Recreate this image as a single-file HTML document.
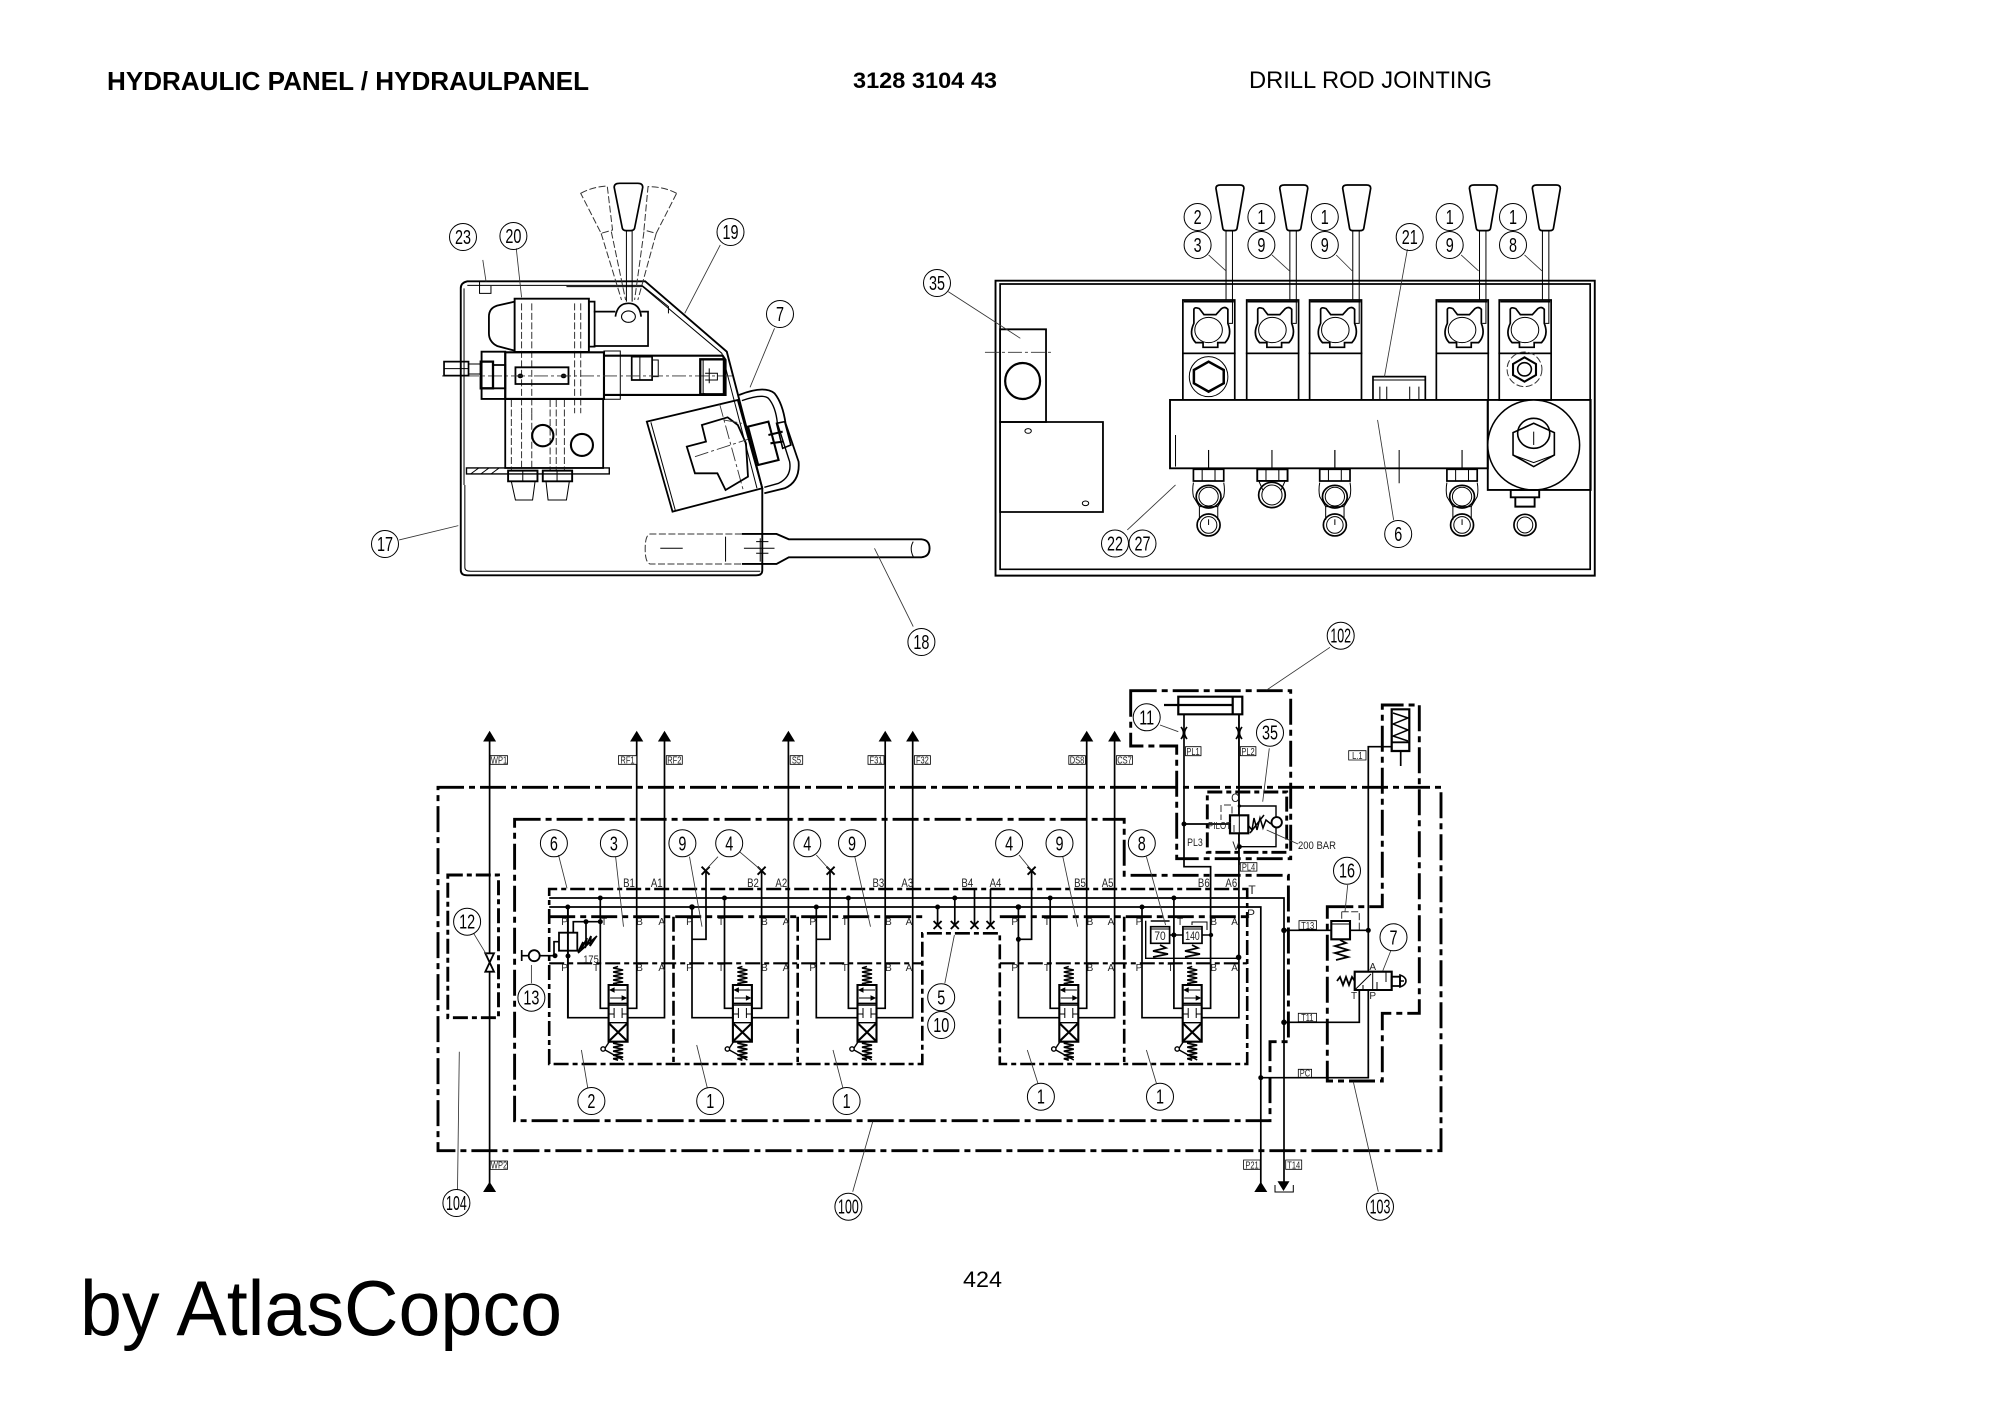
<!DOCTYPE html>
<html><head><meta charset="utf-8"><title>Hydraulic Panel</title>
<style>
html,body{margin:0;padding:0;background:#fff;width:2000px;height:1413px;overflow:hidden}
svg{display:block;position:absolute;left:0;top:0}
svg *{vector-effect:non-scaling-stroke}
text{font-family:"Liberation Sans",sans-serif;fill:#000;stroke:none}
g,path,rect,line,ellipse,circle,polyline,polygon{fill:none;stroke:#000}
.m{stroke-width:1.7}
.th{stroke-width:1}
.g{stroke-width:.85;stroke:#333}
.da{stroke-width:1;stroke-dasharray:7 2.5;stroke:#333}
.cl{stroke-width:.9;stroke-dasharray:14 3 3 3;stroke:#333}
.d{stroke-width:2.9;stroke-dasharray:26 5 6 5;fill:none}
.d2{stroke-width:2.9;stroke-dasharray:15 4 5 4;fill:none}
.l{stroke-width:1.7;fill:none}
.dot,.dot *{fill:#000;stroke:none}
.f,.f *{fill:#000;stroke:#000}
.c{text-anchor:middle;font-size:20px}
.s{text-anchor:middle;font-size:10px;fill:#222}
.tag{stroke-width:.8;stroke:#333;fill:#fff}
.tag *{fill:#fff}
</style></head><body>
<svg width="2000" height="1413" viewBox="0 0 2000 1413" xmlns="http://www.w3.org/2000/svg">
<rect x="0" y="0" width="2000" height="1413" style="fill:#fff;stroke:none"/>
<defs>
<g id="col" class="m">
 <rect x="0" y="420" width="113" height="160"/>
 <line x1="2" y1="425" x2="111" y2="425" class="m"/>
 <rect x="0" y="580" width="113" height="140"/>
 <path d="M24 490V448Q26 440 36 446L46 464H72L84 446Q92 438 98 448V490Q108 525 92 548H76V562H44V548H28Q12 525 24 490Z" class="m"/>
 <ellipse cx="56" cy="510" rx="30" ry="38" class="th"/>
 <path d="M72 85Q72 75 82 75H124Q133 75 133 85L118 205Q117 212 110 212H94Q88 212 87 205Z" class="m"/>
 <path d="M94 212V420M108 212V490H100" class="th"/>
</g>
<g id="fit" class="m">
 <rect x="-33" y="928" width="66" height="35"/>
 <path d="M-14 928V963M14 928V963" class="th"/>
 <path d="M-33 968Q-36 990 -33 1010L-20 1040H20L33 1010Q36 990 33 968" class="th"/>
 <ellipse cx="0" cy="1010" rx="27" ry="34"/>
 <ellipse cx="0" cy="1010" rx="21" ry="28" class="th"/>
 <path d="M-20 1040V1080M20 1040V1080" class="th"/>
 <ellipse cx="0" cy="1095" rx="25" ry="33"/>
 <ellipse cx="0" cy="1095" rx="18" ry="25" class="th"/>
 <line x1="0" y1="1078" x2="0" y2="1095" class="th"/>
 <line x1="0" y1="870" x2="0" y2="925" class="th"/>
</g>
<polyline id="spr" points="0,0 -5,1.5 5,3.5 -5,5.5 5,7.5 -5,9.5 5,11.5 -5,13.5 5,15.5 -5,17 0,18.5" style="stroke-width:1.6"/>
<g id="sp">
 <rect x="-9.5" y="985" width="19" height="56.7" style="stroke-width:2.1"/>
 <path d="M-9.5 1003.3H9.5M-9.5 1005H9.5M-9.5 1022.7H9.5" style="stroke-width:1.4"/>
 <path d="M-9.5 1023L9.5 1041.5M9.5 1023L-9.5 1041.5" style="stroke-width:2.1"/>
 <path d="M-8 990H8M8 998H-8M-9.5 1014H-4M9.5 1014H4M-4 1008V1018M4 1008V1018" class="th"/>
 <polygon class="f" points="-8,990 -4,988 -4,992"/><polygon class="f" points="8,998 4,996 4,1000"/>
 <use href="#spr" x="0" y="966.5"/>
 <use href="#spr" x="0" y="1041.7"/>
 <circle cx="-15" cy="1049" r="2.2" style="stroke-width:1.4"/>
 <path d="M-13 1050L5 1060M-13 1048L-9 1042" style="stroke-width:1.4"/>
</g>
<g id="xm"><path d="M-4 -4L4 4M4 -4L-4 4" style="stroke-width:1.9"/></g>
</defs>

<!-- Header -->
<text x="107" y="90" textLength="482" lengthAdjust="spacingAndGlyphs" style="font-weight:bold;font-size:26px">HYDRAULIC PANEL / HYDRAULPANEL</text>
<text x="853" y="88" textLength="144" lengthAdjust="spacingAndGlyphs" style="font-weight:bold;font-size:22px">3128 3104 43</text>
<text x="1249" y="88" textLength="243" lengthAdjust="spacingAndGlyphs" style="font-size:24px">DRILL ROD JOINTING</text>
<text x="963" y="1287" textLength="39" lengthAdjust="spacingAndGlyphs" style="font-size:22px">424</text>
<text x="80" y="1335" textLength="482" lengthAdjust="spacingAndGlyphs" style="font-size:78px">by AtlasCopco</text>

<!-- Side view -->
<g transform="translate(340 160) scale(.408 .3333)" class="m">
 <path d="M312 364H748L948 575L1035 985V1232Q1035 1246 1020 1246H312Q296 1246 296 1230V385Q296 368 312 364Z" style="stroke-width:1.9"/>
 <path d="M312 376H738L936 580L1022 985" class="th"/>
 <path d="M306 975V1222Q306 1234 320 1234H1030M304 385V975" class="th"/>
 <path d="M555 380H740M740 376L805 440V460" class="th"/>
 <path d="M342 365V400H370V378" class="th"/>
 <!-- handles -->
 <path d="M672 82Q672 70 685 70H730Q742 70 742 82L722 205Q720 212 712 212H702Q694 212 692 205Z" class="m"/>
 <path d="M702 212V425M716 212V425" class="th"/>
 <path d="M590 100Q620 80 655 78L668 210L640 220Z" class="da"/>
 <path d="M825 100Q795 80 755 80L745 210L775 220Z" class="da"/>
 <path d="M640 220L690 420M665 215L700 420M745 215L722 420M775 220L730 420" class="da"/>
 <circle cx="707" cy="470" r="17" style="stroke-width:1.1"/>
 <path d="M675 470Q680 430 707 430Q735 430 738 470" class="m"/>
 <path d="M622 455H675M738 455H755V558H622" class="m"/>
 <!-- valve -->
 <rect x="428" y="416" width="182" height="160" style="stroke-width:1.9"/>
 <rect x="610" y="425" width="14" height="135"/>
 <path d="M428 425L385 437Q365 445 365 470V520Q365 545 385 558L428 572" style="stroke-width:1.8"/>
 <path d="M445 430V760M470 430V760M575 430V760M590 430V760" class="da"/>
 <rect x="405" y="577" width="242" height="140" style="stroke-width:2.1"/>
 <rect x="347" y="575" width="58" height="142" style="stroke-width:1.9"/>
 <rect x="647" y="573" width="40" height="145" class="th"/>
 <path d="M647 587H938L945 600V705H647" style="stroke-width:2.1"/>
 <rect x="715" y="590" width="50" height="70"/><line x1="735" y1="590" x2="735" y2="660" class="th"/><rect x="765" y="600" width="15" height="50" class="th"/>
 <rect x="430" y="622" width="130" height="50" style="stroke-width:1.8"/>
 <circle class="dot" cx="442" cy="648" r="7"/><circle class="dot" cx="548" cy="648" r="7"/>
 <line x1="250" y1="648" x2="965" y2="648" class="cl"/>
 <rect x="255" y="605" width="60" height="42"/><line x1="255" y1="626" x2="315" y2="626" class="th"/>
 <path d="M315 612H345M315 642H345" class="th"/>
 <rect x="345" y="605" width="30" height="80" style="stroke-width:2.3"/>
 <rect x="375" y="615" width="30" height="70" style="stroke-width:1.8"/>
 <rect x="883" y="598" width="58" height="105" style="stroke-width:2.3"/>
 <path d="M890 600V700L905 705M905 625V670M895 640H925V660H895" class="th"/>
 <!-- lower block -->
 <rect x="405" y="717" width="240" height="207" style="stroke-width:1.8"/>
 <path d="M420 720V930M445 760V930M470 760V930M515 720V930M530 720V930M550 720V930" class="da"/>
 <ellipse cx="497" cy="827" rx="26" ry="32" style="stroke-width:2.1"/>
 <ellipse cx="593" cy="855" rx="27" ry="33" style="stroke-width:2.1"/>
 <rect x="310" y="924" width="350" height="18" style="stroke-width:1.4"/>
 <path d="M320 942L340 924M345 942L365 924M370 942L390 924" class="th"/>
 <rect x="412" y="932" width="72" height="32" style="stroke-width:1.9"/><rect x="497" y="932" width="72" height="32" style="stroke-width:1.9"/>
 <path d="M420 965L430 1020H472L478 965M505 965L510 1020H555L562 965M448 932V964M532 932V964" class="th"/>
 <!-- bracket -->
 <polygon points="752,785 975,720 1035,985 815,1055" style="stroke-width:1.8"/>
 <path d="M762 787L822 1052" class="th"/>
 <path d="M930 730L990 998" class="cl"/>
 <path d="M887 795L950 772L975 795L995 850L1000 950L945 990L925 940L870 940L850 860L897 845Z" style="stroke-width:1.8"/>
 <path d="M870 890L1000 838M940 780L985 790" class="cl"/>
 <path d="M978 705Q1040 675 1065 700Q1085 730 1092 790L1124 905Q1128 965 1090 985L1040 1000" style="stroke-width:1.8"/>
 <path d="M985 722Q1035 700 1050 715Q1068 740 1072 790L1102 905Q1108 950 1075 970L1040 982" style="stroke-width:1.4"/>
 <path d="M1000 800L1050 785L1075 900L1025 915Z" style="stroke-width:2.1"/>
 <path d="M1050 825L1085 815M1055 850L1085 845" style="stroke-width:2.1"/>
 <polygon points="1070,790 1090,785 1105,855 1085,865" style="stroke-width:1.6"/>
 <!-- lever -->
 <path d="M985 1122H760Q748 1125 748 1167Q748 1208 760 1212H985" class="da"/>
 <path d="M985 1122H1070L1100 1138H1425Q1445 1140 1445 1165Q1445 1190 1425 1192H1100L1070 1212H985" style="stroke-width:1.9"/>
 <path d="M945 1130V1205M785 1165H840M1405 1145Q1395 1165 1405 1190M990 1165H1065M1020 1145H1050M1020 1180H1050M1030 1135V1205" class="th"/>
 <path d="M1035 985V1000" class="th"/>
 <!-- leaders -->
 <path d="M350 300L358 365M432 265L445 412M932 255L845 460M1065 505L1005 682M145 1140L290 1097M1405 1400L1310 1165" class="g"/>
</g>

<!-- Front view -->
<g transform="translate(900 160) scale(.4592 .3333)" class="m">
 <rect x="208" y="362" width="1305" height="885" style="stroke-width:1.9"/>
 <path d="M218 372H1503V1228H218Z" class="m"/>
 <rect x="218" y="508" width="100" height="278" style="stroke-width:1.8"/>
 <ellipse cx="267" cy="663" rx="38" ry="54" style="stroke-width:2.2"/>
 <line x1="185" y1="577" x2="335" y2="577" class="cl"/>
 <rect x="218" y="786" width="224" height="270" style="stroke-width:1.8"/>
 <ellipse cx="279" cy="813" rx="7" ry="7" class="th"/><ellipse cx="404" cy="1030" rx="7" ry="7" class="th"/>
 <use href="#col" x="616"/><use href="#col" x="755"/><use href="#col" x="892"/><use href="#col" x="1168"/><use href="#col" x="1305"/>
 <ellipse cx="672" cy="650" rx="42" ry="60" class="th"/>
 <polygon points="640,630 672,605 705,630 705,670 672,695 640,670" style="stroke-width:2.5"/>
 <ellipse cx="1360" cy="628" rx="38" ry="52" class="da"/>
 <polygon points="1335,612 1360,592 1385,612 1385,645 1360,665 1335,645" style="stroke-width:2.1"/>
 <ellipse cx="1360" cy="628" rx="15" ry="20" style="stroke-width:1.6"/>
 <rect x="1030" y="650" width="114" height="70"/>
 <path d="M1030 660H1144M1045 680V720M1060 680V720M1110 680V720M1130 680V720" class="th"/>
 <rect x="588" y="720" width="692" height="205" style="stroke-width:1.9;fill:#fff"/>
 <path d="M600 825V920M1087 870V970M672 870V925M810 870V925M947 870V925M1224 870V925" class="th"/>
 <rect x="1280" y="720" width="224" height="270" style="stroke-width:1.9"/>
 <ellipse cx="1380" cy="855" rx="100" ry="135" style="stroke-width:1.5;fill:#fff"/>
 <polygon points="1335,818 1380,790 1425,818 1425,885 1380,920 1335,885" style="stroke-width:1.6"/>
 <path d="M1335 885L1380 908L1425 885" class="th"/>
 <ellipse cx="1380" cy="820" rx="35" ry="45" style="stroke-width:1.6"/>
 <line x1="1380" y1="815" x2="1380" y2="855" class="th"/>
 <path d="M1330 990H1392V1012H1330ZM1340 1012V1040H1382V1012" style="stroke-width:1.9"/>
 <ellipse cx="1361" cy="1095" rx="24" ry="32"/><ellipse cx="1361" cy="1095" rx="17" ry="24" class="th"/>
 <use href="#fit" x="672"/><use href="#fit" x="947"/><use href="#fit" x="1224"/>
 <rect x="778" y="928" width="66" height="35" style="stroke-width:1.9"/>
 <path d="M797 928V963M825 928V963" class="th"/>
 <path d="M782 965L790 990M838 965L830 990" class="th"/>
 <ellipse cx="810" cy="1005" rx="29" ry="38"/><ellipse cx="810" cy="1005" rx="22" ry="30" class="th"/>
 <line x1="810" y1="870" x2="810" y2="925" class="th"/>
 <path d="M672 285L710 333M810 285L850 335M950 285L985 333M1105 268L1055 650M1222 285L1260 333M1360 285L1398 333M105 395L262 535M495 1110L600 975M1075 1080L1040 780" class="g"/>
</g>

<!-- Callouts upper -->
<g class="th">
<circle cx="463" cy="237" r="13.5"/><circle cx="513.4" cy="236" r="13.5"/><circle cx="730.5" cy="232" r="13.5"/><circle cx="780" cy="314" r="13.5"/><circle cx="385" cy="544" r="13.5"/><circle cx="921.4" cy="642" r="13.5"/>
<circle cx="937" cy="283" r="13.5"/><circle cx="1197.6" cy="217" r="13.5"/><circle cx="1197.6" cy="245" r="13.5"/><circle cx="1261.4" cy="217" r="13.5"/><circle cx="1261.4" cy="245" r="13.5"/><circle cx="1324.8" cy="217" r="13.5"/><circle cx="1324.8" cy="245" r="13.5"/><circle cx="1409.7" cy="237" r="13.5"/><circle cx="1449.7" cy="217" r="13.5"/><circle cx="1449.7" cy="245" r="13.5"/><circle cx="1513" cy="217" r="13.5"/><circle cx="1513" cy="245" r="13.5"/>
<circle cx="1115" cy="543.5" r="13.5"/><circle cx="1142.5" cy="543.5" r="13.5"/><circle cx="1398.2" cy="534" r="13.5"/>
</g>
<text class="c" transform="matrix(.72 0 0 1 463 244)">23</text>
<text class="c" transform="matrix(.72 0 0 1 513.4 243)">20</text>
<text class="c" transform="matrix(.72 0 0 1 730.5 239)">19</text>
<text class="c" transform="matrix(.72 0 0 1 780 321)">7</text>
<text class="c" transform="matrix(.72 0 0 1 385 551)">17</text>
<text class="c" transform="matrix(.72 0 0 1 921.4 649)">18</text>
<text class="c" transform="matrix(.72 0 0 1 937 290)">35</text>
<text class="c" transform="matrix(.72 0 0 1 1197.6 224)">2</text>
<text class="c" transform="matrix(.72 0 0 1 1197.6 252)">3</text>
<text class="c" transform="matrix(.72 0 0 1 1261.4 224)">1</text>
<text class="c" transform="matrix(.72 0 0 1 1261.4 252)">9</text>
<text class="c" transform="matrix(.72 0 0 1 1324.8 224)">1</text>
<text class="c" transform="matrix(.72 0 0 1 1324.8 252)">9</text>
<text class="c" transform="matrix(.72 0 0 1 1409.7 244)">21</text>
<text class="c" transform="matrix(.72 0 0 1 1449.7 224)">1</text>
<text class="c" transform="matrix(.72 0 0 1 1449.7 252)">9</text>
<text class="c" transform="matrix(.72 0 0 1 1513 224)">1</text>
<text class="c" transform="matrix(.72 0 0 1 1513 252)">8</text>
<text class="c" transform="matrix(.72 0 0 1 1115 550.5)">22</text>
<text class="c" transform="matrix(.72 0 0 1 1142.5 550.5)">27</text>
<text class="c" transform="matrix(.72 0 0 1 1398.2 541)">6</text>

<!-- Schematic: dash-dot enclosures -->
<rect x="438" y="787.3" width="1003" height="363.4" class="d"/>
<path d="M514.6 819.3H1124.2V875.3H1288.4V1041.7H1270V1120.7H514.6Z" class="d"/>
<path d="M1130.7 690.7H1290.7V858.7H1176.7V746H1130.7Z" class="d"/>
<rect x="1207.3" y="792" width="79.4" height="60.3" class="d2"/>
<path d="M1327.3 906.7H1382.3V705H1419.3V1013.3H1382.3V1081H1327.3Z" class="d"/>
<rect x="447.8" y="875" width="50.7" height="142.7" class="d2"/>
<path d="M549.2 1064V889H1247.2V1064H999.8V933.3H922.3V1064Z" class="d2" style="stroke-width:2.6"/>
<path d="M549.2 916.7H922.3M999.8 916.7H1247.2" class="d" style="stroke-width:2.8"/>
<path d="M549.2 963.3H922.3M999.8 963.3H1247.2" class="d2" style="stroke-width:2.1"/>
<path d="M673.5 916.7V1062M797.7 916.7V1062M1124.2 916.7V1062" class="d2" style="stroke-width:2.6"/>

<!-- main lines -->
<g class="l">
 <path d="M549.2 898H1284V1182"/>
 <path d="M549.2 907H1260.8V1184"/>
 <path d="M489.6 738V1184"/>
 <!-- section 1 -->
 <path d="M567.8 907V1017.7H609M628 1017.7H664.5V738"/>
 <path d="M600.3 898V1008.3H609M628 1008.3H636.7V738"/>
 <!-- section 2 -->
 <path d="M692 907V1017.7H733M752 1017.7H788.4V738"/>
 <path d="M724.5 898V1008.3H733M752 1008.3H761.6V870.7"/>
 <path d="M692 939.3H706V870.7"/>
 <!-- section 3 -->
 <path d="M816.3 907V1017.7H857.5M876.5 1017.7H912.7V738"/>
 <path d="M848.4 898V1008.3H857.5M876.5 1008.3H885.2V738"/>
 <path d="M816.3 939.3H830V870.7"/>
 <!-- section 4 -->
 <path d="M1018.4 907V1017.7H1059M1078 1017.7H1114.6V738"/>
 <path d="M1050.2 898V1008.3H1059M1078 1008.3H1086.7V738"/>
 <path d="M1018.4 939.3H1031.6V870.7"/>
 <!-- section 5 -->
 <path d="M1142 907V1017.7H1183M1202 1017.7H1238.9V714.3"/>
 <path d="M1173.9 898V1008.3H1183M1202 1008.3H1210.6V866.7H1184V714.3"/>
 <!-- restrictions stems -->
 <path d="M937.6 907V925M954.8 898V925M974.5 889V925M990.5 889V925"/>
 <!-- check valve 13 -->
 <path d="M521.7 950V961M521.7 955.7H529M539.5 955.7H555"/>
 <!-- relief 175 -->
 <path d="M554 955.7V941.7H559M573.3 932.7V921.7H600M586 921.7V935"/>
 <!-- L1 -->
 <path d="M1391.7 746.7H1368.3V1077.7H1260.8"/>
 <path d="M1285 930.3H1331.3M1350 930.3H1368.3"/>
 <path d="M1359.3 990V1022.3H1284"/>
 <!-- pilot -->
 <path d="M1184 824H1230"/>
 <path d="M1239.3 806H1276V846.7H1239.3" style="stroke-width:1.4"/>
 <!-- 8 reliefs -->
 <path d="M1145.7 920.7V958.3H1238.6M1169.6 935H1182.9M1202 935H1211M1150.7 921H1169.6" style="stroke-width:1.4"/>
</g>
<!-- arrows -->
<g class="f">
 <polygon points="489.6,731.7 484,741 495.2,741"/><polygon points="636.7,731.7 631,741 642.4,741"/><polygon points="664.5,731.7 658.8,741 670.2,741"/><polygon points="788.4,731.7 782.7,741 794.1,741"/><polygon points="885.2,731.7 879.5,741 890.9,741"/><polygon points="912.7,731.7 907,741 918.4,741"/><polygon points="1086.7,731.7 1081,741 1092.4,741"/><polygon points="1114.6,731.7 1109,741 1120.2,741"/>
 <polygon points="489.6,1182.7 484,1191.5 495.2,1191.5"/><polygon points="1260.8,1182.7 1255.2,1191.5 1266.4,1191.5"/>
 <polygon points="1278.4,1181.7 1288.6,1181.7 1283.5,1190"/>
</g>
<path d="M1275 1185V1192H1293.3V1185" class="th"/>
<!-- spools -->
<use href="#sp" x="618.1"/><use href="#sp" x="742.4"/><use href="#sp" x="867"/><use href="#sp" x="1068.8"/><use href="#sp" x="1192.2"/>
<!-- X marks -->
<use href="#xm" x="705.6" y="870.7"/><use href="#xm" x="761.6" y="870.7"/><use href="#xm" x="830.6" y="870.7"/><use href="#xm" x="1031.6" y="870.7"/>
<use href="#xm" x="937.6" y="925"/><use href="#xm" x="954.8" y="925"/><use href="#xm" x="974.5" y="925"/><use href="#xm" x="990.5" y="925"/>
<!-- dots -->
<g class="dot">
<circle cx="600.3" cy="898" r="2.5"/><circle cx="724.5" cy="898" r="2.5"/><circle cx="848.4" cy="898" r="2.5"/><circle cx="954.8" cy="898" r="2.5"/><circle cx="1050.2" cy="898" r="2.5"/><circle cx="1173.9" cy="898" r="2.5"/>
<circle cx="567.8" cy="907" r="2.5"/><circle cx="692" cy="907" r="2.8"/><circle cx="816.3" cy="907" r="2.5"/><circle cx="937.6" cy="907" r="2.5"/><circle cx="1018.4" cy="907" r="2.8"/><circle cx="1142" cy="907" r="2.5"/>
<circle cx="600.3" cy="921.7" r="2.5"/><circle cx="586" cy="921.7" r="2.5"/><circle cx="555" cy="955.7" r="2.5"/><circle cx="568" cy="956" r="2.5"/>
<circle cx="1018.4" cy="939.3" r="2.5"/>
<circle cx="1284" cy="930.3" r="2.8"/><circle cx="1368.3" cy="930.3" r="2.5"/><circle cx="1284" cy="1022.3" r="2.8"/><circle cx="1260.8" cy="1077.7" r="2.5"/>
<circle cx="1184" cy="824" r="2.5"/><circle cx="1239.3" cy="846.7" r="2.5"/><circle cx="1239.3" cy="806" r="1.6"/>
<circle cx="1173.9" cy="935" r="2.5"/><circle cx="1211" cy="935" r="2.2"/><circle cx="1238.6" cy="957.3" r="2.8"/>
</g>
<!-- check valve, valve 12, relief 175 -->
<circle cx="534.2" cy="955.7" r="5.5" style="stroke-width:1.8;fill:#fff"/>
<path d="M485.3 953.3H494L485.3 971.7H494Z" style="stroke-width:1.8;fill:#fff"/>
<rect x="559" y="932.7" width="18.3" height="18" style="stroke-width:1.8"/>
<path d="M568 907V1017" class="l"/>
<path d="M578 952L583 942L581 950L587 938L585 948L591 936L590 946L596 937M586 935V945M578 953L597 936" style="stroke-width:1.7"/>
<text class="s" transform="matrix(.85 0 0 1 591 963)" style="font-size:11px">175</text>

<!-- cylinder -->
<rect x="1178.3" y="696.7" width="64" height="17.6" style="stroke-width:2.2"/>
<path d="M1164 705H1232.7M1232.7 696.7V714.3" style="stroke-width:2.2"/>
<path d="M1181 727Q1186 733 1181 739M1187 727Q1182 733 1187 739M1236 727Q1241 733 1236 739M1242 727Q1237 733 1242 739" style="stroke-width:1.7"/>
<!-- valve 35 -->
<rect x="1230" y="815.3" width="18.3" height="18" style="stroke-width:2.2;fill:#fff"/>
<path d="M1239.3 714V865" class="th"/>
<path d="M1234 825V832M1224 805H1232V815M1221 805V820" class="da"/>
<circle cx="1276.7" cy="822.3" r="5.2" style="stroke-width:1.9;fill:#fff"/>
<path d="M1248 825L1252 830L1254 818L1257 830L1260 818L1263 828L1266 820L1271 824M1250 833L1264 815" style="stroke-width:1.5"/>
<text class="s" transform="matrix(.9 0 0 1 1235 802)" style="font-size:12px">C</text>
<text class="s" transform="matrix(.9 0 0 1 1236 850)" style="font-size:12px">V</text>
<text class="s" transform="matrix(.8 0 0 1 1219.5 829)">PILOT</text>
<text class="s" transform="matrix(.8 0 0 1 1195 846)" style="font-size:11px">PL3</text>
<text x="1298" y="849" textLength="38" lengthAdjust="spacingAndGlyphs" style="font-size:11px;fill:#222">200 BAR</text>
<!-- accumulator -->
<rect x="1391.7" y="709.3" width="17.6" height="41.7" style="stroke-width:2.2"/>
<path d="M1391.7 742.3H1409.3" style="stroke-width:1.9"/>
<polyline points="1393,713 1408,718 1393,724 1408,730 1393,736 1408,741" style="stroke-width:1.5"/>
<path d="M1400.7 751V766" class="l"/>
<!-- valve 16 -->
<rect x="1331.3" y="921" width="18.7" height="18.3" style="stroke-width:2.1;fill:#fff"/>
<path d="M1331.3 924H1350" class="th"/>
<path d="M1341.7 911.7H1359.3V930M1341.7 911.7V921" class="da"/>
<polyline points="1340,940 1346,943 1335,946 1348,950 1335,953 1348,957 1336,960" style="stroke-width:1.8"/>
<!-- valve 7 -->
<rect x="1354.7" y="971.7" width="37" height="18.3" style="stroke-width:2.1;fill:#fff"/>
<path d="M1372.7 971.7V990M1354.7 990L1371 974M1363 990V985M1377 990V982M1386 972V982" class="th"/>
<rect x="1391.7" y="976.7" width="8.3" height="9.3" style="stroke-width:1.8"/>
<path d="M1400 975V987Q1406 985 1406 981Q1406 977 1400 975ZM1400 981H1404" style="stroke-width:1.6"/>
<polyline points="1337,981 1340,977 1343,985 1346,977 1349,985 1352,977 1354.7,981" style="stroke-width:1.8"/>
<!-- relief 70 / 140 -->
<rect x="1150.7" y="926.7" width="18.9" height="16.6" style="stroke-width:1.7;fill:#fff"/>
<rect x="1182.9" y="926.7" width="19.1" height="16.6" style="stroke-width:1.7;fill:#fff"/>
<path d="M1150.7 929H1169.6M1182.9 929H1202M1192 925V922H1207V930" class="th"/>
<polyline points="1160,945 1166,948 1153,951 1168,954 1153,957" style="stroke-width:1.7"/>
<polyline points="1192,945 1198,948 1185,951 1200,954 1185,957" style="stroke-width:1.7"/>
<text class="s" transform="matrix(.85 0 0 1 1160 940)" style="font-size:12px">70</text>
<text class="s" transform="matrix(.72 0 0 1 1192.5 940)" style="font-size:12px">140</text>

<!-- leaders schematic -->
<path class="g" d="M558.5 855L567 888.3M615.6 856.7L623.5 926.7M689.5 856.7L702 926.7M718 856.7L705.6 870M739.5 851.7L761 870M816.3 855L829.8 870M854.8 856.7L870.5 926.7M473.6 933.3L487.8 956.7M531.4 965V983.3M954.4 935L944.8 983.3M581.4 1050L587.8 1088.3M696.7 1045L707.4 1088.3M833 1050L843 1088.3M459.3 1051.7L457.5 1190M872.7 1121.7L852.7 1191.7M1019 855L1031.3 870M1062.8 856.7L1077.7 926.7M1146.4 856.7L1165.6 925M1027.3 1050L1037.9 1083.3M1146.4 1050L1156.4 1083.3M1160 725L1178.3 731.7M1330 647.3L1266.7 690M1269.3 748.3L1262.7 801.7M1266.7 830L1298 844M1347.7 885L1345 911.7M1390.7 951L1382.7 971M1353.3 1081.7L1378.3 1191.7"/>

<!-- tags -->
<g class="tag">
<rect x="490.3" y="755.7" width="17.2" height="8.6"/><rect x="618.5" y="755.7" width="18.2" height="8.6"/><rect x="666.3" y="755.7" width="16" height="8.6"/><rect x="790.2" y="755.7" width="12.5" height="8.6"/><rect x="868" y="755.7" width="16" height="8.6"/><rect x="914.4" y="755.7" width="16" height="8.6"/><rect x="490.3" y="1161" width="17.2" height="8.4"/>
<rect x="1068.8" y="755.7" width="16.6" height="8.6"/><rect x="1116.5" y="755.7" width="16" height="8.6"/><rect x="1185.5" y="746.7" width="15.5" height="9"/><rect x="1240.3" y="746.7" width="15.6" height="9"/><rect x="1240.3" y="862.7" width="16.6" height="8.4"/><rect x="1348.7" y="750.7" width="17.3" height="9.3"/><rect x="1299" y="920.7" width="17.5" height="8.6"/><rect x="1298.3" y="1013.3" width="18.2" height="8.4"/><rect x="1298.3" y="1069.3" width="13.3" height="8"/><rect x="1243.6" y="1160" width="16.6" height="9.3"/><rect x="1285.7" y="1160" width="16" height="9.3"/>
</g>
<g>
<text class="s" transform="matrix(.75 0 0 1 499 763.5)">WP1</text>
<text class="s" transform="matrix(.75 0 0 1 627.5 763.5)">RF1</text>
<text class="s" transform="matrix(.75 0 0 1 674.3 763.5)">RF2</text>
<text class="s" transform="matrix(.75 0 0 1 796.5 763.5)">S5</text>
<text class="s" transform="matrix(.75 0 0 1 876 763.5)">F31</text>
<text class="s" transform="matrix(.75 0 0 1 922.4 763.5)">F32</text>
<text class="s" transform="matrix(.75 0 0 1 499 1168.5)">WP2</text>
<text class="s" transform="matrix(.75 0 0 1 1077 763.5)">DS8</text>
<text class="s" transform="matrix(.75 0 0 1 1124.5 763.5)">CS7</text>
<text class="s" transform="matrix(.75 0 0 1 1193 755)">PL1</text>
<text class="s" transform="matrix(.75 0 0 1 1248 755)">PL2</text>
<text class="s" transform="matrix(.75 0 0 1 1248.5 870.5)">PL4</text>
<text class="s" transform="matrix(.75 0 0 1 1357.3 759)">L.1</text>
<text class="s" transform="matrix(.75 0 0 1 1307.7 929)">T13</text>
<text class="s" transform="matrix(.75 0 0 1 1307.4 1021)">T11</text>
<text class="s" transform="matrix(.75 0 0 1 1305 1076.5)">PC</text>
<text class="s" transform="matrix(.75 0 0 1 1252 1168.5)">P21</text>
<text class="s" transform="matrix(.75 0 0 1 1293.7 1168.5)">T14</text>
</g>
<!-- port labels -->
<g>
<text class="s" transform="matrix(.8 0 0 1 629 887)" style="font-size:12px">B1</text><text class="s" transform="matrix(.8 0 0 1 656.7 887)" style="font-size:12px">A1</text><text class="s" transform="matrix(.8 0 0 1 753 887)" style="font-size:12px">B2</text><text class="s" transform="matrix(.8 0 0 1 781.3 887)" style="font-size:12px">A2</text><text class="s" transform="matrix(.8 0 0 1 878.4 887)" style="font-size:12px">B3</text><text class="s" transform="matrix(.8 0 0 1 907.3 887)" style="font-size:12px">A3</text><text class="s" transform="matrix(.8 0 0 1 967.3 887)" style="font-size:12px">B4</text><text class="s" transform="matrix(.8 0 0 1 995.5 887)" style="font-size:12px">A4</text><text class="s" transform="matrix(.8 0 0 1 1080 887)" style="font-size:12px">B5</text><text class="s" transform="matrix(.8 0 0 1 1107.6 887)" style="font-size:12px">A5</text><text class="s" transform="matrix(.8 0 0 1 1203.8 887)" style="font-size:12px">B6</text><text class="s" transform="matrix(.8 0 0 1 1231.3 887)" style="font-size:12px">A6</text>
<text class="s" transform="translate(1252 894)" style="font-size:12px">T</text><text class="s" transform="translate(1251 918)" style="font-size:12px">P</text>
<text class="s" transform="translate(564.6 925)">P</text><text class="s" transform="translate(604 925)">T</text><text class="s" transform="translate(639.6 925)">B</text><text class="s" transform="translate(661.7 925)">A</text>
<text class="s" transform="translate(564.6 971)">P</text><text class="s" transform="translate(596 971)">T</text><text class="s" transform="translate(639.6 971)">B</text><text class="s" transform="translate(661.7 971)">A</text>
<text class="s" transform="translate(689.5 925)">P</text><text class="s" transform="translate(721 925)">T</text><text class="s" transform="translate(764.5 925)">B</text><text class="s" transform="translate(786 925)">A</text>
<text class="s" transform="translate(689.5 971)">P</text><text class="s" transform="translate(721 971)">T</text><text class="s" transform="translate(764.5 971)">B</text><text class="s" transform="translate(786 971)">A</text>
<text class="s" transform="translate(812.7 925)">P</text><text class="s" transform="translate(844.8 925)">T</text><text class="s" transform="translate(888.4 925)">B</text><text class="s" transform="translate(909 925)">A</text>
<text class="s" transform="translate(812.7 971)">P</text><text class="s" transform="translate(844.8 971)">T</text><text class="s" transform="translate(888.4 971)">B</text><text class="s" transform="translate(909 971)">A</text>
<text class="s" transform="translate(1014.7 925)">P</text><text class="s" transform="translate(1046.9 925)">T</text><text class="s" transform="translate(1090 925)">B</text><text class="s" transform="translate(1110.9 925)">A</text>
<text class="s" transform="translate(1014.7 971)">P</text><text class="s" transform="translate(1046.9 971)">T</text><text class="s" transform="translate(1090 971)">B</text><text class="s" transform="translate(1110.9 971)">A</text>
<text class="s" transform="translate(1139 925)">P</text><text class="s" transform="translate(1180 925)">T</text><text class="s" transform="translate(1213.7 925)">B</text><text class="s" transform="translate(1234.6 925)">A</text>
<text class="s" transform="translate(1139 971)">P</text><text class="s" transform="translate(1170.6 971)">T</text><text class="s" transform="translate(1213.7 971)">B</text><text class="s" transform="translate(1234.6 971)">A</text>
<text class="s" transform="translate(1372.7 970)">A</text><text class="s" transform="translate(1354 999)">T</text><text class="s" transform="translate(1372.7 999)">P</text>
</g>

<!-- Callouts schematic -->
<g class="th" style="fill:none">
<circle cx="553.9" cy="843.3" r="13.5"/><circle cx="613.9" cy="843.3" r="13.5"/><circle cx="682.4" cy="843.3" r="13.5"/><circle cx="729.2" cy="843.3" r="13.5"/><circle cx="807.3" cy="843.3" r="13.5"/><circle cx="852" cy="843.3" r="13.5"/><circle cx="467.1" cy="921.7" r="13.5"/><circle cx="531.4" cy="997.7" r="13.5"/><circle cx="941.2" cy="997.3" r="13.5"/><circle cx="941.2" cy="1025" r="13.5"/><circle cx="591.4" cy="1101" r="13.5"/><circle cx="710.2" cy="1101" r="13.5"/><circle cx="846.6" cy="1101" r="13.5"/><circle cx="456.4" cy="1203" r="13.5"/><circle cx="848.4" cy="1206.7" r="13.5"/>
<circle cx="1009.1" cy="843.3" r="13.5"/><circle cx="1059.5" cy="843.3" r="13.5"/><circle cx="1141.8" cy="843.3" r="13.5"/><circle cx="1040.9" cy="1096.7" r="13.5"/><circle cx="1160" cy="1096.7" r="13.5"/><circle cx="1270" cy="732.7" r="13.5"/><circle cx="1347" cy="870.7" r="13.5"/><circle cx="1393.5" cy="937.3" r="13.5"/><circle cx="1380" cy="1206.7" r="13.5"/><circle cx="1340.7" cy="635.7" r="13.5"/><circle cx="1146.7" cy="717.3" r="13.5"/>
</g>
<text class="c" transform="matrix(.72 0 0 1 553.9 850.3)">6</text>
<text class="c" transform="matrix(.72 0 0 1 613.9 850.3)">3</text>
<text class="c" transform="matrix(.72 0 0 1 682.4 850.3)">9</text>
<text class="c" transform="matrix(.72 0 0 1 729.2 850.3)">4</text>
<text class="c" transform="matrix(.72 0 0 1 807.3 850.3)">4</text>
<text class="c" transform="matrix(.72 0 0 1 852 850.3)">9</text>
<text class="c" transform="matrix(.72 0 0 1 467.1 928.7)">12</text>
<text class="c" transform="matrix(.72 0 0 1 531.4 1004.7)">13</text>
<text class="c" transform="matrix(.72 0 0 1 941.2 1004.3)">5</text>
<text class="c" transform="matrix(.72 0 0 1 941.2 1032)">10</text>
<text class="c" transform="matrix(.72 0 0 1 591.4 1108)">2</text>
<text class="c" transform="matrix(.72 0 0 1 710.2 1108)">1</text>
<text class="c" transform="matrix(.72 0 0 1 846.6 1108)">1</text>
<text class="c" transform="matrix(.62 0 0 1 456.4 1210)">104</text>
<text class="c" transform="matrix(.62 0 0 1 848.4 1213.7)">100</text>
<text class="c" transform="matrix(.72 0 0 1 1009.1 850.3)">4</text>
<text class="c" transform="matrix(.72 0 0 1 1059.5 850.3)">9</text>
<text class="c" transform="matrix(.72 0 0 1 1141.8 850.3)">8</text>
<text class="c" transform="matrix(.72 0 0 1 1040.9 1103.7)">1</text>
<text class="c" transform="matrix(.72 0 0 1 1160 1103.7)">1</text>
<text class="c" transform="matrix(.72 0 0 1 1270 739.7)">35</text>
<text class="c" transform="matrix(.72 0 0 1 1347 877.7)">16</text>
<text class="c" transform="matrix(.72 0 0 1 1393.5 944.3)">7</text>
<text class="c" transform="matrix(.62 0 0 1 1380 1213.7)">103</text>
<text class="c" transform="matrix(.62 0 0 1 1340.7 642.7)">102</text>
<text class="c" transform="matrix(.72 0 0 1 1146.7 724.3)">11</text>
</svg>
</body></html>
